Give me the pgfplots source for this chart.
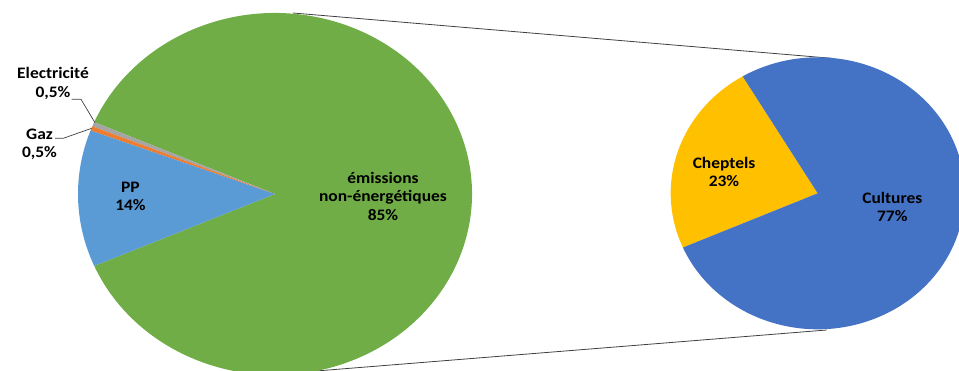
\documentclass[border=0pt]{standalone}
\usepackage{pgfplots}
\pgfplotsset{compat=1.18}
\usepackage{fontspec}
\setmainfont{Carlito}
\definecolor{cGreen}{HTML}{70AD47}
\definecolor{cPP}{HTML}{5B9BD5}
\definecolor{cGaz}{HTML}{ED7D31}
\definecolor{cElec}{HTML}{A5A5A5}
\definecolor{cCult}{HTML}{4472C4}
\definecolor{cChep}{HTML}{FFC000}
\definecolor{cLine}{HTML}{404040}
\tikzset{lbl/.style={font=\bfseries\fontsize{16}{18.5}\selectfont,align=center,inner sep=0pt,text=black,xscale=1.09}}
% data (shares)
\def\vElec{0.4}\def\vGaz{0.4}\def\vPP{12.2}\def\vNE{87.0}
\def\vChep{23}\def\vCult{77}
% geometry
\def\cxA{275}\def\cyA{177}\def\rxA{197}\def\ryA{181}
\def\cxB{817.7}\def\cyB{177.7}\def\rxB{147}\def\ryB{136}
\pgfmathsetmacro\aS{3.6*\vNE/2}
\pgfmathsetmacro\aE{\aS+3.6*\vElec}
\pgfmathsetmacro\aG{\aE+3.6*\vGaz}
\pgfmathsetmacro\aP{\aG+3.6*\vPP}
\pgfmathsetmacro\aN{\aS+360}
\pgfmathsetmacro\bS{120.7}
\pgfmathsetmacro\bC{\bS+3.6*\vChep}
\pgfmathsetmacro\bN{\bS+360}
\begin{document}
\begin{tikzpicture}
\begin{axis}[width=959pt,height=371pt,scale only axis,
  xmin=0,xmax=959,ymin=0,ymax=371,hide axis,clip=true]
\addplot[draw=none] coordinates {(0,0) (959,371)};
% connector lines
\draw[cLine,line width=0.8pt] (axis cs:293,358) -- (axis cs:831.7,312.7);
\draw[cLine,line width=0.8pt] (axis cs:300,-1.3) -- (axis cs:826.7,41);
% left pie
\fill[cGreen] (axis cs:\cxA,\cyA) -- ++(\aP:\rxA pt and \ryA pt) arc[start angle=\aP,end angle=\aN,x radius=\rxA pt,y radius=\ryA pt] -- cycle;
\fill[cElec] (axis cs:\cxA,\cyA) -- ++(\aS:\rxA pt and \ryA pt) arc[start angle=\aS,end angle=\aE,x radius=\rxA pt,y radius=\ryA pt] -- cycle;
\fill[cGaz] (axis cs:\cxA,\cyA) -- ++(\aE:\rxA pt and \ryA pt) arc[start angle=\aE,end angle=\aG,x radius=\rxA pt,y radius=\ryA pt] -- cycle;
\fill[cPP] (axis cs:\cxA,\cyA) -- ++(\aG:\rxA pt and \ryA pt) arc[start angle=\aG,end angle=\aP,x radius=\rxA pt,y radius=\ryA pt] -- cycle;
% right pie
\fill[cChep] (axis cs:\cxB,\cyB) -- ++(\bS:\rxB pt and \ryB pt) arc[start angle=\bS,end angle=\bC,x radius=\rxB pt,y radius=\ryB pt] -- cycle;
\fill[cCult] (axis cs:\cxB,\cyB) -- ++(\bC:\rxB pt and \ryB pt) arc[start angle=\bC,end angle=\bN,x radius=\rxB pt,y radius=\ryB pt] -- cycle;
% leader lines
\draw[cLine,line width=0.7pt] (axis cs:71.7,271.7) -- (axis cs:81,271.7) -- (axis cs:95,248.3);
\draw[cLine,line width=0.7pt] (axis cs:55,232.7) -- (axis cs:63.3,232.7) -- (axis cs:91.7,242.7);
% labels
\node[lbl] at (axis cs:383,175) {émissions\\non-énergétiques\\85\%};
\node[lbl] at (axis cs:130.5,174.5) {PP\\14\%};
\node[lbl] at (axis cs:53,287.5) {Electricité\\0,5\%};
\node[lbl] at (axis cs:39.5,226.5) {Gaz\\0,5\%};
\node[lbl] at (axis cs:724,199) {Cheptels\\23\%};
\node[lbl] at (axis cs:892.3,164) {Cultures\\77\%};
\end{axis}
\end{tikzpicture}
\end{document}
